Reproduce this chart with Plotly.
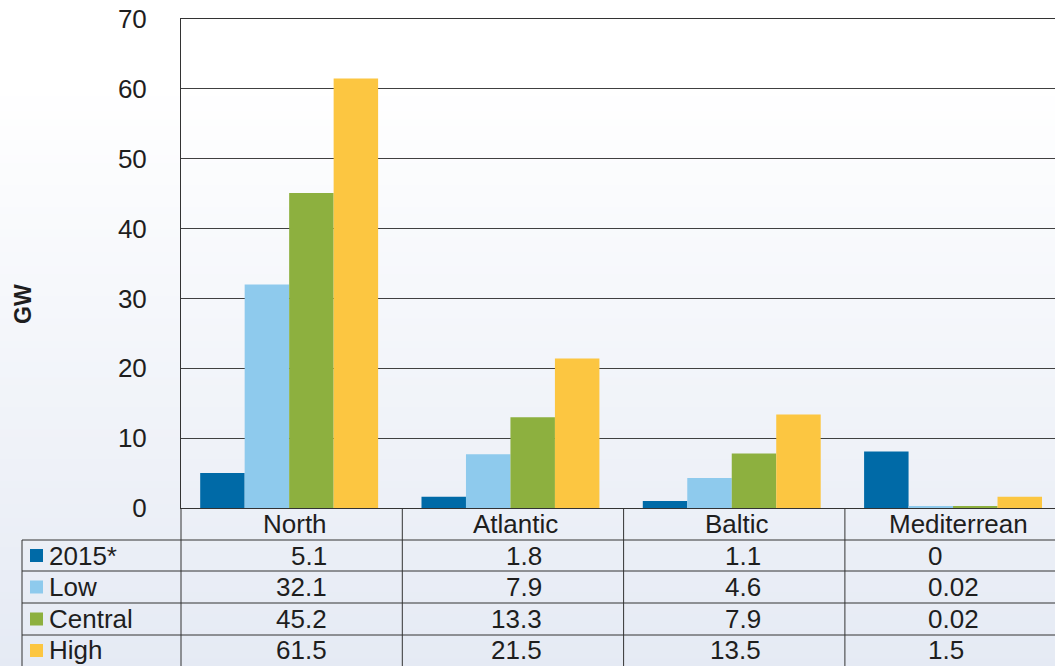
import plotly.graph_objects as go

# ---------------- data ----------------
categories = ["North", "Atlantic", "Baltic", "Mediterrean"]
series_names = ["2015*", "Low", "Central", "High"]
# bar heights as drawn in the picture (GW)
bars_2015 = [5.0, 1.6, 1.0, 8.1]
bars_low = [32.0, 7.7, 4.3, 0.3]
bars_central = [45.1, 13.0, 7.8, 0.3]
bars_high = [61.5, 21.4, 13.4, 1.6]
# values printed in the data table
table_2015 = ["5.1", "1.8", "1.1", "0"]
table_low = ["32.1", "7.9", "4.6", "0.02"]
table_central = ["45.2", "13.3", "7.9", "0.02"]
table_high = ["61.5", "21.5", "13.5", "1.5"]
y_ticks = [0, 10, 20, 30, 40, 50, 60, 70]

colors = ["#006aa7", "#8ecaed", "#8db03f", "#fcc641"]

# ---------------- layout geometry (pixels) ----------------
W, H = 1055, 666
L, T, B = 181, 19, 508
CW = 221.3  # width of one category cell
BAR_SHIFT = 2.5  # bars sit slightly left of the cell centres
FONT = "Liberation Sans, Arial, sans-serif"
TXT = "#1e1e1e"
LINE = "#333333"


def px2x(px):
    return (px - L) / (W - L)


def py2y(py):
    return (B - py) / (B - T)


fig = go.Figure()
for name, vals, col in zip(series_names,
                           [bars_2015, bars_low, bars_central, bars_high],
                           colors):
    fig.add_trace(go.Bar(x=categories, y=vals, name=name,
                         marker=dict(color=col, line=dict(width=0))))

shapes = []
annotations = []

# background gradient (white top -> light blue-grey bottom)
n_bands = 90
top_c = (255, 255, 255)
bot_c = (229, 234, 244)
for i in range(n_bands):
    f0 = i / n_bands
    f1 = (i + 1) / n_bands
    t = min(1.0, max(0.0, (f0 - 0.12) / 0.88))
    c = tuple(round(top_c[k] + (bot_c[k] - top_c[k]) * t) for k in range(3))
    shapes.append(dict(type="rect", xref="paper", yref="paper",
                       x0=px2x(-5), x1=px2x(W + 5),
                       y0=py2y(H * f1 + 1), y1=py2y(H * f0),
                       fillcolor="rgb(%d,%d,%d)" % c, line=dict(width=0),
                       layer="below"))

# table geometry
row_edges = [508, 540, 571, 603, 635, 666]
col_edges = [L + i * CW for i in range(len(categories) + 1)]
left_x = 22

def hline(py, x0, x1):
    shapes.append(dict(type="line", xref="paper", yref="paper",
                       x0=px2x(x0), x1=px2x(x1), y0=py2y(py), y1=py2y(py),
                       line=dict(color=LINE, width=1)))

def vline(px, y0, y1):
    shapes.append(dict(type="line", xref="paper", yref="paper",
                       x0=px2x(px), x1=px2x(px), y0=py2y(y0), y1=py2y(y1),
                       line=dict(color=LINE, width=1)))

for py in row_edges[1:-1]:
    hline(py, left_x, W + 2)
for px in col_edges[:-1]:
    vline(px, 508, 668)
vline(left_x, 540, 668)

# category headers
for i, cat in enumerate(categories):
    cx = (col_edges[i] + col_edges[i + 1]) / 2 + 3
    annotations.append(dict(text=cat, xref="paper", yref="paper",
                            x=px2x(cx), y=py2y(524), showarrow=False,
                            xanchor="center", yanchor="middle",
                            font=dict(family=FONT, size=26, color=TXT)))

# table values
offsets = [37, 31, 29, -29.5]
anchors = ["right", "right", "right", "left"]
tables = [table_2015, table_low, table_central, table_high]
for r, (name, vals, col) in enumerate(zip(series_names, tables, colors)):
    cy = (row_edges[r + 1] + row_edges[r + 2]) / 2
    # legend key
    shapes.append(dict(type="rect", xref="paper", yref="paper",
                       x0=px2x(30), x1=px2x(43),
                       y0=py2y(cy + 6.5), y1=py2y(cy - 6.5),
                       fillcolor=col, line=dict(width=0)))
    annotations.append(dict(text=name, xref="paper", yref="paper",
                            x=px2x(47), y=py2y(cy), showarrow=False,
                            xanchor="left", yanchor="middle",
                            font=dict(family=FONT, size=26, color=TXT)))
    for i, v in enumerate(vals):
        cx = (col_edges[i] + col_edges[i + 1]) / 2 + offsets[i]
        annotations.append(dict(text=v, xref="paper", yref="paper",
                                x=px2x(cx), y=py2y(cy), showarrow=False,
                                xanchor=anchors[i], yanchor="middle",
                                font=dict(family=FONT, size=26, color=TXT)))

# y-axis title
annotations.append(dict(text="<b>GW</b>", xref="paper", yref="paper",
                        x=px2x(23), y=py2y(304), showarrow=False,
                        textangle=-90, xanchor="center", yanchor="middle",
                        font=dict(family=FONT, size=23, color=TXT)))

x0 = -0.5 + BAR_SHIFT / CW
fig.update_layout(
    width=W, height=H,
    margin=dict(l=L, r=0, t=T, b=H - B, pad=0),
    paper_bgcolor="white",
    plot_bgcolor="rgba(0,0,0,0)",
    barmode="group",
    bargap=0.196,
    bargroupgap=0,
    showlegend=False,
    shapes=shapes,
    annotations=annotations,
    xaxis=dict(range=[x0, x0 + (W - L) / CW], showticklabels=False,
               showgrid=False, zeroline=False, showline=True, mirror=True,
               linecolor=LINE, linewidth=1, ticks="", fixedrange=True),
    yaxis=dict(range=[0, 70], tickvals=y_ticks,
               ticktext=[str(v) for v in y_ticks],
               showgrid=True, gridcolor="#404040", gridwidth=1,
               zeroline=False, showline=True, linecolor=LINE, linewidth=1,
               ticks="", ticklabelstandoff=28,
               tickfont=dict(family=FONT, size=26, color=TXT),
               fixedrange=True),
)

fig.write_html("out.html", config={"displayModeBar": False},
               post_script="document.body.style.margin='0px';"
                           "document.body.style.overflow='hidden';")
